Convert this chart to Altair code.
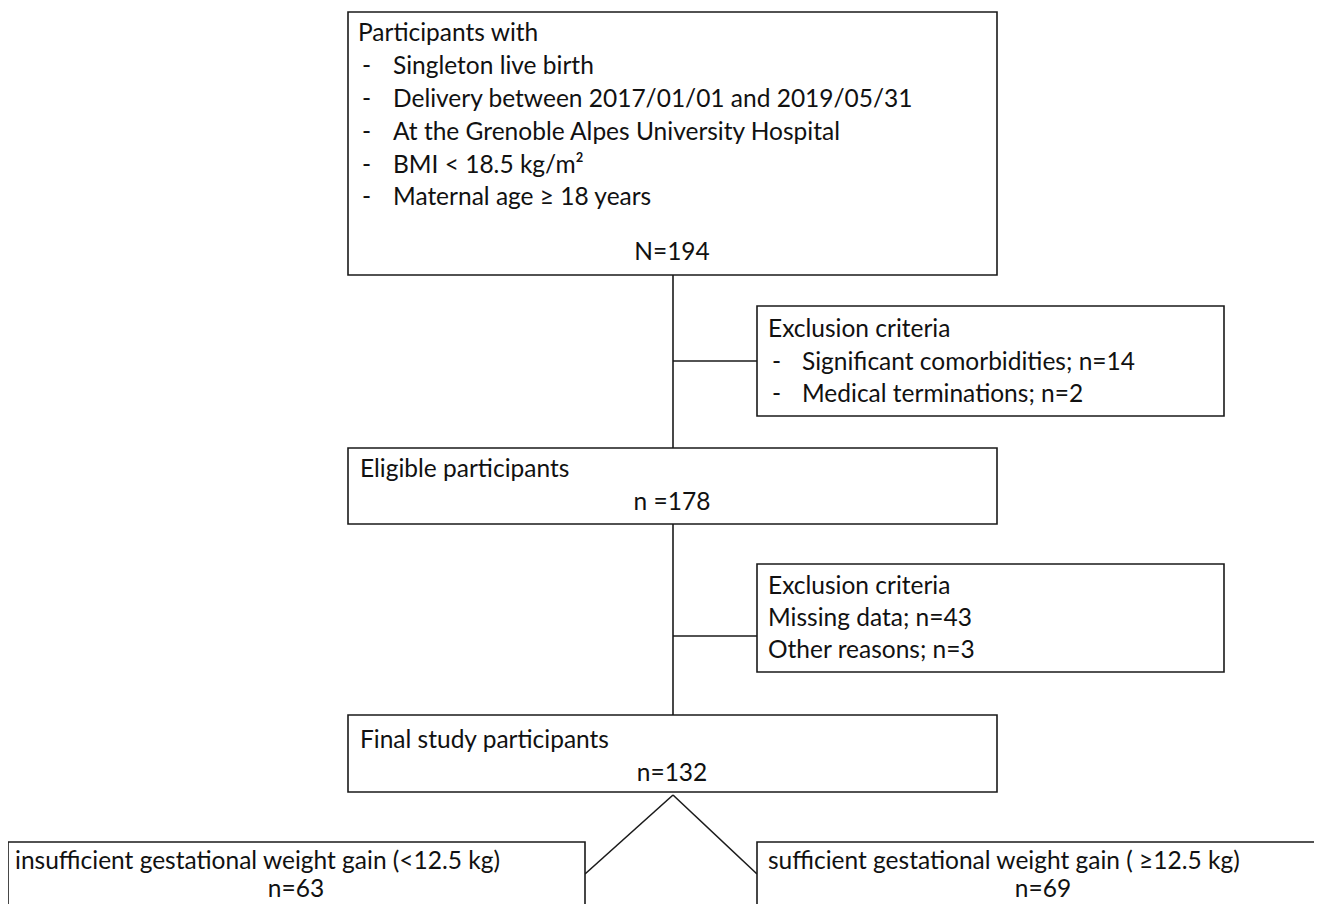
import altair as alt
import pandas as pd

# ---- content ----
top_lines = ["Participants with",
             "Singleton live birth",
             "Delivery between 2017/01/01 and 2019/05/31",
             "At the Grenoble Alpes University Hospital",
             "BMI < 18.5 kg/m²",
             "Maternal age ≥ 18 years"]
top_n = "N=194"
excl1_lines = ["Exclusion criteria", "Significant comorbidities; n=14", "Medical terminations; n=2"]
elig_title, elig_n = "Eligible participants", "n =178"
excl2_lines = ["Exclusion criteria", "Missing data; n=43", "Other reasons; n=3"]
final_title, final_n = "Final study participants", "n=132"
left_title, left_n = "insufficient gestational weight gain (<12.5 kg)", "n=63"
right_title, right_n = "sufficient gestational weight gain ( ≥12.5 kg)", "n=69"

# ---- layout (image pixel coordinates) ----
boxes = pd.DataFrame({
    "x":  [348, 757, 348, 757, 348, 8, 757],
    "x2": [997, 1224, 997, 1224, 997, 585, 1345],
    "y":  [12, 306, 448, 564, 715, 842, 842],
    "y2": [275, 416, 524, 672, 792, 940, 940],
})
links = pd.DataFrame({
    "x":  [673, 673, 673, 673, 673, 673],
    "y":  [275, 361, 524, 636, 795, 795],
    "x2": [673, 757, 673, 757, 585, 757],
    "y2": [448, 361, 715, 636, 874, 874],
})

rows = []
def add(t, x, y, align="left"):
    rows.append({"t": t, "x": x, "y": y, "a": align})

add(top_lines[0], 358, 34)
for i, t in enumerate(top_lines[1:]):
    yy = [67, 100, 133, 166, 198][i]
    add("-", 362, yy)
    add(t, 393, yy)
add(top_n, 672, 253, "center")
add(excl1_lines[0], 768, 330)
for t, yy in zip(excl1_lines[1:], [363, 395]):
    add("-", 772, yy)
    add(t, 802, yy)
add(elig_title, 360, 470)
add(elig_n, 672, 503, "center")
for t, yy in zip(excl2_lines, [587, 619, 651]):
    add(t, 768, yy)
add(final_title, 360, 741)
add(final_n, 672, 774, "center")
add(left_title, 15, 862)
add(left_n, 296, 890, "center")
add(right_title, 768, 862)
add(right_n, 1043, 890, "center")
texts = pd.DataFrame(rows)

W, H = 1306, 896
xs = alt.Scale(domain=[8, 8 + W], nice=False, zero=False)
ys = alt.Scale(domain=[8, 8 + H], nice=False, zero=False, reverse=True)
noax = None

rect = alt.Chart(boxes).mark_rect(fill="white", stroke="#1a1a1a", strokeWidth=1.6, clip=True).encode(
    x=alt.X("x:Q", scale=xs, axis=noax), x2="x2:Q",
    y=alt.Y("y:Q", scale=ys, axis=noax), y2="y2:Q")
rule = alt.Chart(links).mark_rule(color="#1a1a1a", strokeWidth=1.6, clip=True).encode(
    x=alt.X("x:Q", scale=xs, axis=noax), x2="x2:Q",
    y=alt.Y("y:Q", scale=ys, axis=noax), y2="y2:Q")
font = "Lato"
fs = 24.5
tl = alt.Chart(texts[texts.a == "left"]).mark_text(
    align="left", baseline="middle", font=font, fontSize=fs, color="#111").encode(
    x=alt.X("x:Q", scale=xs, axis=noax), y=alt.Y("y:Q", scale=ys, axis=noax), text="t:N")
tc = alt.Chart(texts[texts.a == "center"]).mark_text(
    align="center", baseline="middle", font=font, fontSize=fs, color="#111").encode(
    x=alt.X("x:Q", scale=xs, axis=noax), y=alt.Y("y:Q", scale=ys, axis=noax), text="t:N")

chart = (rule + rect + tl + tc).properties(
    width=W, height=H, autosize=alt.AutoSizeParams(type="none"), padding=0
).configure(background="white").configure_view(stroke=None)

chart.save("out.html", embed_options={"renderer": "svg", "actions": False})
